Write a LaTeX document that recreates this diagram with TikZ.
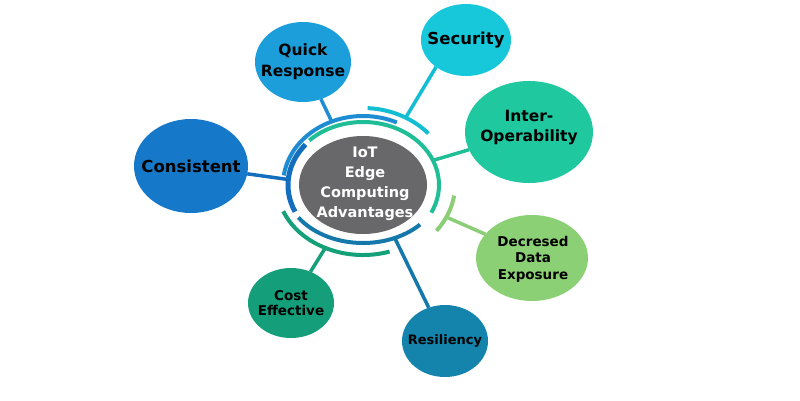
\documentclass[tikz,border=0pt]{standalone}
\usepackage{fontspec}
\setmainfont{DejaVu Sans}
\usetikzlibrary{shapes.geometric,calc}
\definecolor{cQR}{RGB}{28,158,218}
\definecolor{cSec}{RGB}{22,200,218}
\definecolor{cIO}{RGB}{32,200,160}
\definecolor{cCons}{RGB}{22,120,200}
\definecolor{cDDE}{RGB}{140,208,118}
\definecolor{cCost}{RGB}{20,158,122}
\definecolor{cRes}{RGB}{20,132,172}
\definecolor{cGray}{RGB}{104,104,106}
\definecolor{rQR}{RGB}{30,140,210}
\definecolor{rTeal}{RGB}{32,190,150}
\definecolor{rCons}{RGB}{20,110,190}
\definecolor{rRes}{RGB}{20,120,170}
\definecolor{rCost}{RGB}{20,160,120}
\definecolor{rSec}{RGB}{20,190,210}
\definecolor{rDDE}{RGB}{140,205,120}
\begin{document}
\begin{tikzpicture}[x=1pt,y=-1pt,
  bub/.style={ellipse,inner sep=0pt,outer sep=0pt},
  txt/.style={inner sep=0pt,align=center,text=black},
  ring/.style={line width=4pt},
  con/.style={line width=3.5pt}]
\useasboundingbox[fill=white] (0,0) rectangle (800,400);
\coordinate (c) at (363,185);
% rings around the centre
\draw[ring,rQR] ($(c)+(-172:80 and 69)$) arc[start angle=-172,end angle=-65,x radius=80,y radius=69];
\draw[ring,rTeal] ($(c)+(-135:76 and 63)$) arc[start angle=-135,end angle=26,x radius=76,y radius=63];
\draw[line width=5pt,rCons] ($(c)+(-140:75 and 63)$) arc[start angle=-140,end angle=-205,x radius=75,y radius=63];
\draw[ring,rRes] ($(c)+(146:78 and 58)$) arc[start angle=146,end angle=43,x radius=78,y radius=58];
\draw[ring,rCost] ($(c)+(158:86 and 70)$) arc[start angle=158,end angle=72,x radius=86,y radius=70];
\draw[ring,rSec] ($(c)+(-87:88 and 77)$) arc[start angle=-87,end angle=-42,x radius=88,y radius=77];
\draw[ring,rDDE] ($(c)+(8:92 and 76)$) arc[start angle=8,end angle=37,x radius=92,y radius=76];
% connector end points on the rings
\coordinate (qrend) at ($(c)+(-113:80 and 69)$);
\coordinate (secend) at ($(c)+(-61:88 and 77)$);
\coordinate (ioend) at ($(c)+(-23:76 and 63)$);
\coordinate (consend) at ($(c)+(185:75 and 63)$);
\coordinate (ddeend) at ($(c)+(25:92 and 76)$);
\coordinate (costend) at ($(c)+(116:86 and 70)$);
\coordinate (resend) at ($(c)+(66:78 and 58)$);
% centre
\node[bub,fill=cGray,minimum width=128,minimum height=98] (ctr) at (c) {};
\node[txt,text=white,font=\bfseries\fontsize{14.5}{20}\selectfont] (ctrT) at (365,184) {IoT\\Edge\\Computing\\Advantages};
% bubbles
\node[bub,fill=cQR,minimum width=96,minimum height=80] (qr) at (303,62) {};
\node[txt,font=\bfseries\fontsize{15.5}{21}\selectfont] (qrT) at (qr) {Quick\\Response};
\node[bub,fill=cSec,minimum width=90,minimum height=72] (sec) at (466,40) {};
\node[txt,font=\bfseries\fontsize{16.5}{20}\selectfont] (secT) at (sec) {Security};
\node[bub,fill=cIO,minimum width=128,minimum height=102] (io) at (529,132) {};
\node[txt,font=\bfseries\fontsize{15.5}{20}\selectfont] (ioT) at (529,128) {Inter-\\Operability};
\node[bub,fill=cCons,minimum width=114,minimum height=94] (cons) at (191,166) {};
\node[txt,font=\bfseries\fontsize{16.5}{20}\selectfont] (consT) at (cons) {Consistent};
\node[bub,fill=cDDE,minimum width=112,minimum height=86] (dde) at (532,258) {};
\node[txt,font=\bfseries\fontsize{13.5}{16.5}\selectfont] (ddeT) at (533,259) {Decresed\\Data\\Exposure};
\node[bub,fill=cCost,minimum width=86,minimum height=70] (cost) at (291,303) {};
\node[txt,font=\bfseries\fontsize{13.5}{15.5}\selectfont] (costT) at (cost) {Cost\\Effective};
\node[bub,fill=cRes,minimum width=86,minimum height=72] (res) at (445,341) {};
\node[txt,font=\bfseries\fontsize{13}{16}\selectfont] (resT) at (res) {Resiliency};
% connectors
\draw[con,rQR] (qr) -- (qrend);
\draw[con,rSec] (sec.222) -- (secend);
\draw[con,rTeal] (io) -- (ioend);
\draw[con,rCons] (cons) -- (consend);
\draw[con,rDDE] (dde.153) -- (ddeend);
\draw[con,rCost] (cost) -- (costend);
\draw[con,rRes] (res) -- (resend);
\end{tikzpicture}
\end{document}
